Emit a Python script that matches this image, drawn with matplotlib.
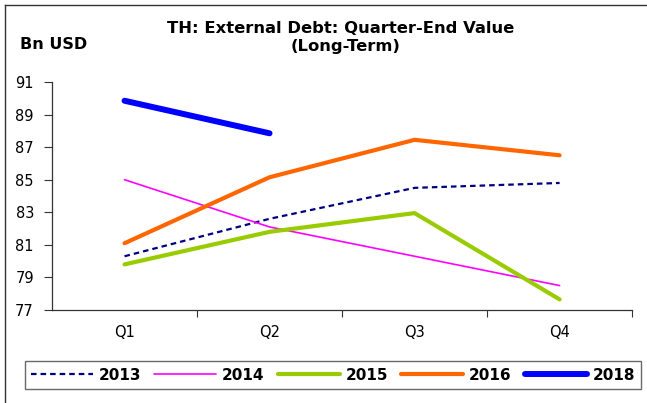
import matplotlib
matplotlib.use("Agg")
import matplotlib.pyplot as plt
from matplotlib.lines import Line2D

plt.rcParams['font.family'] = ['DejaVu Sans']

quarters = ["Q1", "Q2", "Q3", "Q4"]
v2013 = [80.3, 82.6, 84.5, 84.8]
v2014 = [85.0, 82.1, 80.3, 78.5]
v2015 = [79.8, 81.8, 82.95, 77.65]
v2016 = [81.1, 85.15, 87.45, 86.5]
v2018 = [89.85, 87.85]
yticks = [77, 79, 81, 83, 85, 87, 89, 91]

fig = plt.figure(figsize=(6.47, 4.03), dpi=100)
ax = fig.add_axes([0.0804, 0.2308, 0.8966, 0.5657])

x = list(range(len(quarters)))
ax.plot(x, v2013, color="#000080", lw=1.6, ls=(0, (2.5, 1.8)), label="2013")
ax.plot(x, v2014, color="#FF00FF", lw=1.2, label="2014", solid_capstyle="round")
ax.plot(x, v2015, color="#99CC00", lw=3.0, label="2015", solid_capstyle="round", solid_joinstyle="round")
ax.plot(x, v2016, color="#FF6600", lw=3.0, label="2016", solid_capstyle="round", solid_joinstyle="round")
ax.plot(x[:len(v2018)], v2018, color="#0000FF", lw=4.3, label="2018", solid_capstyle="round")

ax.set_xlim(-0.5, 3.5)
ax.set_ylim(77, 91)
ax.set_yticks(yticks)
ax.set_yticklabels([str(t) for t in yticks], fontsize=10.5)
ax.set_xticks(x)
ax.set_xticklabels(quarters, fontsize=10.5)
ax.set_xticks([0.5, 1.5, 2.5, 3.5], minor=True)
ax.tick_params(axis='x', which='major', length=0, pad=11)
ax.tick_params(axis='x', which='minor', length=5, width=0.8, color="#333333", direction='out')
ax.tick_params(axis='y', length=6, width=0.8, color="#333333", direction='out', pad=7)
for s in ["top", "right"]:
    ax.spines[s].set_visible(False)
for s in ["left", "bottom"]:
    ax.spines[s].set_color("#333333")
    ax.spines[s].set_linewidth(0.9)

fig.text(341/647, 1 - 33/403, "TH: External Debt: Quarter-End Value",
         ha="center", va="baseline", fontsize=11.8, fontweight="bold")
fig.text(346/647, 1 - 51.5/403, "(Long-Term)",
         ha="center", va="baseline", fontsize=11.8, fontweight="bold")
fig.text(20/647, 1 - 49/403, "Bn USD", ha="left", va="baseline", fontsize=11.5, fontweight="bold")

leg = fig.legend(loc="center", bbox_to_anchor=(333/647, 1 - 375/403), ncol=5, frameon=True,
                 fancybox=False, shadow=False, fontsize=11, handlelength=4.05,
                 columnspacing=0.85, handletextpad=0.4, borderpad=0.4)
for t in leg.get_texts():
    t.set_fontweight("bold")
leg.get_frame().set_edgecolor("#444444")
leg.get_frame().set_linewidth(1.0)

# figure frame: left and top edges
fig.add_artist(Line2D([4.5/647, 4.5/647], [0, 1 - 5/403], transform=fig.transFigure,
                      color="#333333", lw=1.0))
fig.add_artist(Line2D([4.5/647, 1], [1 - 5/403, 1 - 5/403], transform=fig.transFigure,
                      color="#333333", lw=1.0))

fig.savefig("out.png", dpi=100)
